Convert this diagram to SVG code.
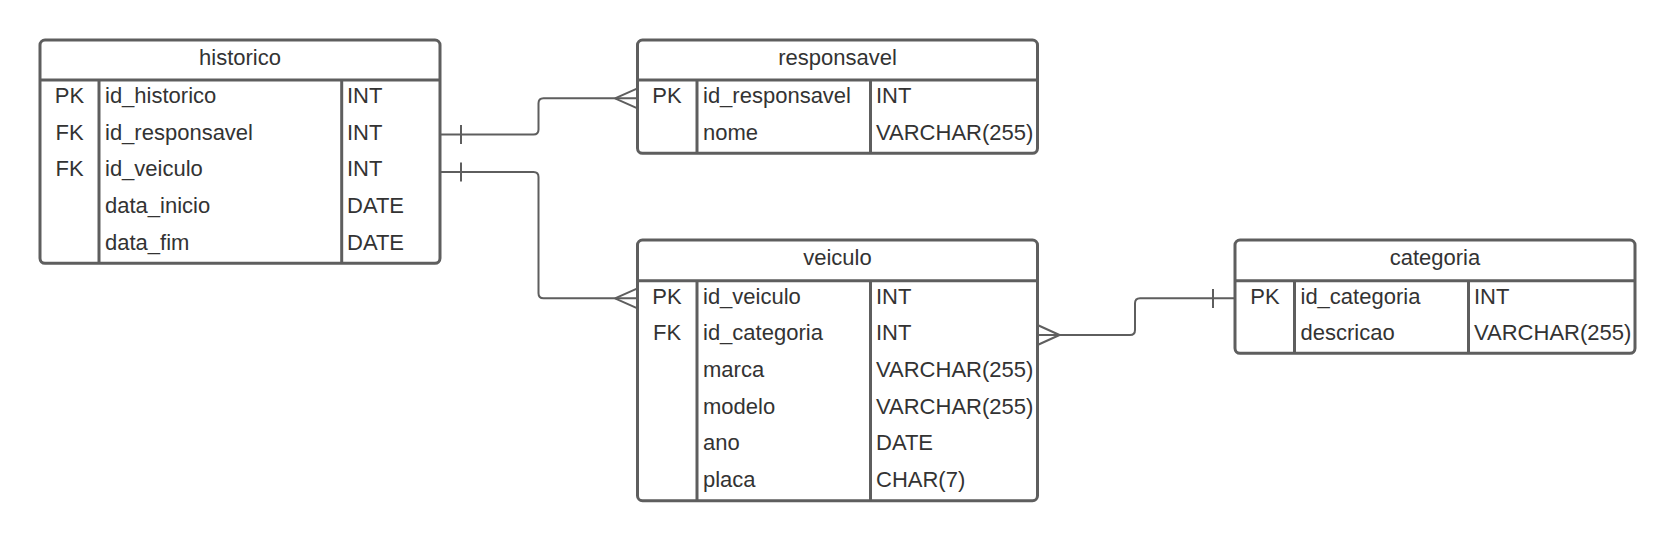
<svg xmlns="http://www.w3.org/2000/svg" width="1675" height="542" viewBox="0 0 1675 542">
<style>
.box{fill:#ffffff;stroke:#5e5e5e;stroke-width:3}
.ln{fill:none;stroke:#5e5e5e;stroke-width:3}
.cn{fill:none;stroke:#5e5e5e;stroke-width:2}
text{font-family:"Liberation Sans",Arial,sans-serif;font-size:22px;fill:#333333}
.c{text-anchor:middle}
</style>
<rect width="1675" height="542" fill="#ffffff"/>
<g id="connectors">
<path class="cn" d="M440,134.5 H533.5 Q538.5,134.5 538.5,129.5 V103.3 Q538.5,98.3 543.5,98.3 H637.5"/>
<path class="cn" d="M615,98.3 L637.5,88.3 M615,98.3 L637.5,108.3 M461,125 V144"/>
<path class="cn" d="M440,172 H533.5 Q538.5,172 538.5,177 V293.3 Q538.5,298.3 543.5,298.3 H637.5"/>
<path class="cn" d="M615,298.3 L637.5,288.3 M615,298.3 L637.5,308.3 M461,162.5 V181.5"/>
<path class="cn" d="M1037.5,335 H1130 Q1135,335 1135,330 V303.3 Q1135,298.3 1140,298.3 H1235"/>
<path class="cn" d="M1059.5,335 L1037.5,325 M1059.5,335 L1037.5,345 M1213,289 V308"/>
</g>
<g id="historico">
<rect class="box" x="40" y="40" width="400" height="223.3" rx="5"/>
<path class="ln" d="M40,80 H440 M99,80 V263.3 M341.7,80 V263.3"/>
<text class="c" x="240" y="65">historico</text>
<text class="c" x="69.5" y="103">PK</text><text x="105" y="103">id_historico</text><text x="347" y="103">INT</text>
<text class="c" x="69.5" y="139.7">FK</text><text x="105" y="139.7">id_responsavel</text><text x="347" y="139.7">INT</text>
<text class="c" x="69.5" y="176.3">FK</text><text x="105" y="176.3">id_veiculo</text><text x="347" y="176.3">INT</text>
<text x="105" y="213">data_inicio</text><text x="347" y="213">DATE</text>
<text x="105" y="249.7">data_fim</text><text x="347" y="249.7">DATE</text>
</g>
<g id="responsavel">
<rect class="box" x="637.5" y="40" width="400" height="113.3" rx="5"/>
<path class="ln" d="M637.5,80 H1037.5 M697,80 V153.3 M870.5,80 V153.3"/>
<text class="c" x="837.5" y="65">responsavel</text>
<text class="c" x="667" y="103">PK</text><text x="703" y="103">id_responsavel</text><text x="876" y="103">INT</text>
<text x="703" y="139.7">nome</text><text x="876" y="139.7">VARCHAR(255)</text>
</g>
<g id="veiculo">
<rect class="box" x="637.5" y="240" width="400" height="260.7" rx="5"/>
<path class="ln" d="M637.5,280.7 H1037.5 M697,280.7 V500.7 M870.5,280.7 V500.7"/>
<text class="c" x="837.5" y="265">veiculo</text>
<text class="c" x="667" y="303.5">PK</text><text x="703" y="303.5">id_veiculo</text><text x="876" y="303.5">INT</text>
<text class="c" x="667" y="340.2">FK</text><text x="703" y="340.2">id_categoria</text><text x="876" y="340.2">INT</text>
<text x="703" y="376.8">marca</text><text x="876" y="376.8">VARCHAR(255)</text>
<text x="703" y="413.5">modelo</text><text x="876" y="413.5">VARCHAR(255)</text>
<text x="703" y="450.2">ano</text><text x="876" y="450.2">DATE</text>
<text x="703" y="486.8">placa</text><text x="876" y="486.8">CHAR(7)</text>
</g>
<g id="categoria">
<rect class="box" x="1235" y="240" width="400" height="113.3" rx="5"/>
<path class="ln" d="M1235,280.7 H1635 M1294.5,280.7 V353.3 M1468.5,280.7 V353.3"/>
<text class="c" x="1435" y="265">categoria</text>
<text class="c" x="1265" y="303.5">PK</text><text x="1300.5" y="303.5">id_categoria</text><text x="1474" y="303.5">INT</text>
<text x="1300.5" y="340.2">descricao</text><text x="1474" y="340.2">VARCHAR(255)</text>
</g>
</svg>
